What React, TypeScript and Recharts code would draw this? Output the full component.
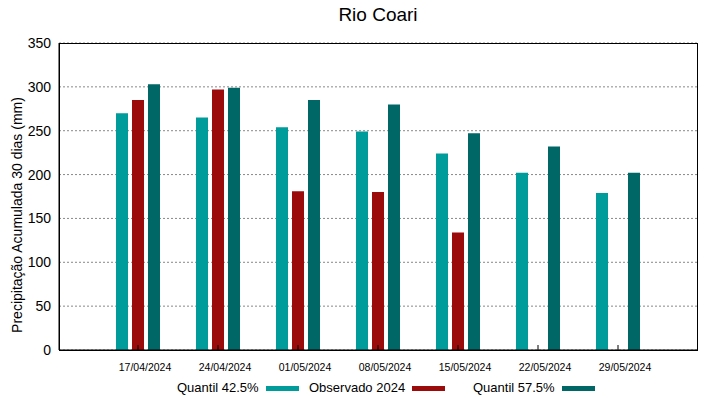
import { Bar, BarChart, CartesianGrid, XAxis, YAxis } from "recharts";

const categories = [
  "17/04/2024",
  "24/04/2024",
  "01/05/2024",
  "08/05/2024",
  "15/05/2024",
  "22/05/2024",
  "29/05/2024",
];
const quantil425 = [270, 265, 254, 249, 224, 202, 179];
const observado2024 = [285, 297, 181, 180, 134, null, null];
const quantil575 = [303, 299, 285, 280, 247, 232, 202];
const yTicks = [0, 50, 100, 150, 200, 250, 300, 350];

const data = categories.map((date, i) => ({
  date,
  q425: quantil425[i],
  obs: observado2024[i],
  q575: quantil575[i],
}));

const FONT = '"Liberation Sans", Arial, sans-serif';

const legendItems = [
  { label: "Quantil 42.5%", color: "#009b9b", left: 177 },
  { label: "Observado 2024", color: "#9b0b0b", left: 309 },
  { label: "Quantil 57.5%", color: "#006666", left: 473 },
];

const XTick = (props: any) => {
  const { x, y, payload } = props;
  return (
    <g>
      <line x1={x} x2={x} y1={y} y2={y - 5} stroke="#000" />
      <text
        x={x + 7}
        y={y + 21}
        textAnchor="middle"
        fontSize={10.5}
        fill="#000"
        fontFamily={FONT}
      >
        {payload.value}
      </text>
    </g>
  );
};

const YLabel = () => (
  <text
    x={22}
    y={215}
    transform="rotate(-90 22 215)"
    textAnchor="middle"
    fontSize={14}
    fill="#000"
    fontFamily={FONT}
  >
    Precipitação Acumulada 30 dias (mm)
  </text>
);

export default function App() {
  return (
    <div
      style={{
        position: "absolute",
        left: 0,
        top: 0,
        width: 719,
        height: 399,
        background: "#fff",
        fontFamily: FONT,
      }}
    >
      <div
        style={{
          position: "absolute",
          left: 59,
          width: 638,
          top: 4,
          textAlign: "center",
          fontSize: 19,
          lineHeight: "22px",
        }}
      >
        Rio Coari
      </div>
      <BarChart
        width={719}
        height={399}
        data={data}
        margin={{ top: 43, right: 22, bottom: 19, left: 19 }}
        barSize={12}
        barGap={4}
      >
        <CartesianGrid vertical={false} stroke="#888" strokeDasharray="2 2" />
        <XAxis
          dataKey="date"
          height={30}
          padding={{ left: 39, right: 39 }}
          tickLine={false}
          tickSize={0}
          tickMargin={0}
          interval={0}
          axisLine={{ stroke: "#000" }}
          tick={<XTick />}
        />
        <YAxis
          domain={[0, 350]}
          ticks={yTicks}
          width={40}
          tickLine={false}
          tickSize={0}
          tickMargin={8}
          axisLine={{ stroke: "#000" }}
          tick={{ fill: "#000", fontSize: 14, fontFamily: FONT }}
          label={<YLabel />}
        />
        <Bar dataKey="q425" fill="#009b9b" isAnimationActive={false} />
        <Bar dataKey="obs" fill="#9b0b0b" isAnimationActive={false} />
        <Bar dataKey="q575" fill="#006666" isAnimationActive={false} />
      </BarChart>
      <div
        style={{
          position: "absolute",
          left: 59,
          top: 43,
          width: 637,
          height: 306,
          border: "1px solid #000",
          pointerEvents: "none",
        }}
      />
      {legendItems.map((item) => (
        <div
          key={item.label}
          style={{
            position: "absolute",
            left: item.left,
            top: 380,
            display: "flex",
            alignItems: "center",
            fontSize: 13,
            lineHeight: "16px",
          }}
        >
          <span>{item.label}</span>
          <span
            style={{
              display: "inline-block",
              width: 33,
              height: 5,
              marginLeft: 7,
              background: item.color,
            }}
          />
        </div>
      ))}
    </div>
  );
}
